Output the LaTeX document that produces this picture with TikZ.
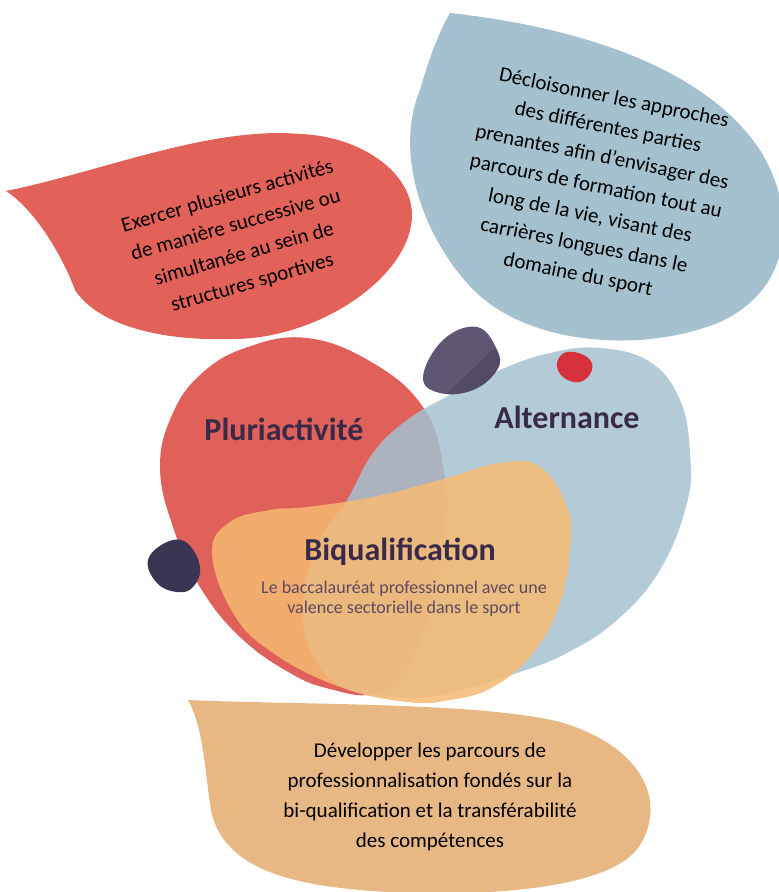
\documentclass[tikz,border=0pt]{standalone}
\usepackage{fontspec}
\setmainfont{Carlito}
\usepackage{tikz}

\definecolor{leafred}{HTML}{E2625A}
\definecolor{leafblue}{HTML}{A5C1CF}
\definecolor{leaforange}{HTML}{E8B884}
\definecolor{blobred}{HTML}{E0605A}
\definecolor{blobblue}{HTML}{A5C2D0}
\definecolor{bloborange}{HTML}{F6BA72}
\definecolor{pebble}{HTML}{5F5673}
\definecolor{pebbledark}{HTML}{3B3452}
\definecolor{reddot}{HTML}{D6303A}
\definecolor{titleink}{HTML}{3A2A4A}
\definecolor{noteink}{HTML}{5E4A60}

\begin{document}
\begin{tikzpicture}[x=1pt, y=-1pt,
   leaftext/.style={align=center, inner sep=0pt, font=\fontsize{21}{30}\selectfont},
   blobtitle/.style={anchor=base, inner sep=0pt, text=titleink, font=\fontsize{32}{36}\selectfont\bfseries},
   blobnote/.style={align=center, inner sep=0pt, text=noteink, font=\fontsize{18}{20}\selectfont}]
  \useasboundingbox (0,0) rectangle (779,892);

  % the three leaves
  \fill [leafblue] (450,13) .. controls (560,25) and (700,60) .. (760,150)
                .. controls (800,215) and (790,290) .. (720,322)
                .. controls (640,355) and (520,345) .. (467,283)
                .. controls (420,230) and (395,150) .. (420,90)
                .. controls (430,55) and (440,30) .. (450,13) -- cycle;

  \fill [leafred] (6,191) .. controls (100,172) and (210,126) .. (300,134)
                .. controls (360,136) and (412,172) .. (412,215)
                .. controls (412,275) and (320,340) .. (230,339)
                .. controls (160,341) and (98,325) .. (75,290)
                .. controls (62,255) and (35,210) .. (6,191) -- cycle;

  \fill [leaforange] (188,700) .. controls (300,705) and (480,702) .. (560,722)
                .. controls (640,745) and (668,800) .. (640,845)
                .. controls (610,895) and (450,898) .. (360,890)
                .. controls (270,882) and (225,860) .. (212,815)
                .. controls (205,780) and (205,730) .. (188,700) -- cycle;

  \node [leaftext, rotate=16] (pluritext) at (240,240)
     {Exercer plusieurs activités\\de manière successive ou\\simultanée au sein de\\structures sportives};
  \node [leaftext, rotate=-11.5] (alttext) at (596,187)
     {Décloisonner les approches\\des différentes parties\\prenantes afin d’envisager des\\parcours de formation tout au\\long de la vie, visant des\\carrières longues dans le\\domaine du sport};
  \node [leaftext] (biqtext) at (430,797)
     {Développer les parcours de\\professionnalisation fondés sur la\\bi-qualification et la transférabilité\\des compétences};

  % the three blobs
  \fill [blobred] plot [smooth cycle, tension=0.7] coordinates {(307,338) (373,363) (423,407) (443,465) (445,530) (430,610) (405,670) (373,694) (330,689) (290,673) (240,637) (200,587) (173,527) (160,467) (172,415) (200,375) (245,348)};
  \fill [blobblue, opacity=0.85] plot [smooth cycle, tension=0.7] coordinates {(600,348) (650,362) (680,400) (690,453) (687,503) (660,570) (617,620) (567,653) (517,673) (460,690) (410,698) (350,690) (315,660) (303,610) (315,550) (347,500) (373,453) (407,420) (450,395) (500,370) (550,353)};
  \fill [bloborange, opacity=0.85] plot [smooth cycle, tension=0.7] coordinates {(212,553) (230,522) (270,510) (307,507) (373,497) (440,480) (500,463) (540,467) (567,507) (570,547) (560,603) (533,653) (493,687) (450,700) (407,702) (340,687) (273,653) (233,613)};

  \begin{scope}
    \clip plot [smooth cycle, tension=0.7] coordinates {(423,377) (443,340) (477,327) (497,350) (497,370) (473,390) (440,393)};
    \fill [pebble] (410,320) rectangle (505,400);
    \fill [pebbledark, opacity=0.35] (440,400) -- (505,338) -- (505,400) -- cycle;
  \end{scope}
  \fill [pebbledark] plot [smooth cycle, tension=0.7] coordinates {(148,560) (167,542) (187,543) (200,567) (193,587) (177,592) (157,583)};
  \fill [reddot] plot [smooth cycle, tension=0.7] coordinates {(557,363) (567,352) (587,357) (592,370) (580,382) (563,377)};

  \node [blobtitle] (pluri) at (284,440) {Pluriactivité};
  \node [blobtitle] (alter) at (567,428) {Alternance};
  \node [blobtitle] (biqual) at (400,560) {Biqualification};
  \node [blobnote] (bacnote) at (404,599) {Le baccalauréat professionnel avec une\\valence sectorielle dans le sport};
\end{tikzpicture}
\end{document}
